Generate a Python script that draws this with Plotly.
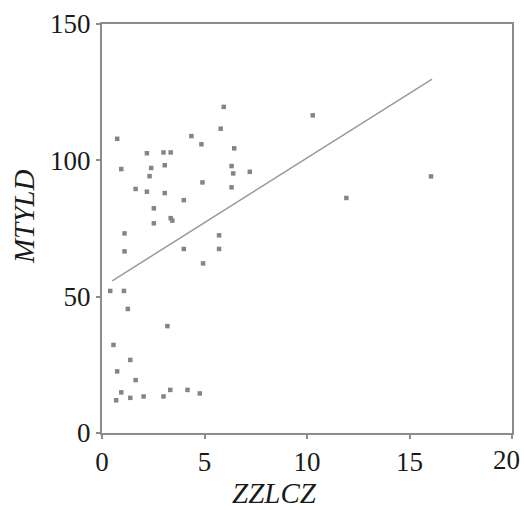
import plotly.graph_objects as go

# Scatter data (ZZLCZ vs MTYLD)
zzlcz = [5.94, 5.79, 0.74, 4.36, 4.85, 6.45, 2.19, 3.00, 3.35, 0.94,
         2.40, 3.06, 6.32, 6.40, 2.32, 4.90, 6.32, 1.64, 2.19, 3.06,
         3.99, 2.53, 7.21, 10.28, 5.71, 3.99, 5.71, 4.93, 3.35, 3.43,
         2.53, 1.10, 1.10, 0.40, 1.07, 1.26, 3.19, 0.56, 1.38, 0.74,
         1.64, 0.94, 0.69, 1.38, 2.03, 3.00, 3.33, 4.17, 4.77, 16.05,
         11.92]
mtyld = [119.6, 111.6, 107.9, 108.9, 105.9, 104.4, 102.6, 102.9, 102.9, 96.8,
         97.2, 98.2, 97.9, 95.2, 94.2, 91.9, 90.1, 89.5, 88.5, 88.0,
         85.4, 82.4, 95.8, 116.5, 72.5, 67.5, 67.5, 62.2, 78.8, 77.9,
         76.9, 73.2, 66.6, 52.1, 52.1, 45.5, 39.2, 32.3, 26.8, 22.6,
         19.4, 14.9, 12.0, 12.9, 13.4, 13.4, 15.8, 15.8, 14.5, 94.1,
         86.2]

# Fitted line endpoints
fit_x = [0.5, 16.1]
fit_y = [55.8, 129.8]

x_ticks = [0, 5, 10, 15, 20]
x_labels = ["0", "5", "10", "15", "20"]
y_ticks = [0, 50, 100, 150]
x_title = "ZZLCZ"
y_title = "MTYLD"

FONT = "Liberation Serif, Times New Roman, serif"
TICK_FONT = dict(family=FONT, size=27, color="#1a1a1a")
TITLE_FONT = dict(family=FONT, size=29, color="#1a1a1a")

fig = go.Figure()
fig.add_trace(go.Scatter(
    x=zzlcz, y=mtyld, mode="markers",
    marker=dict(symbol="square", size=4.5, color="#858585",
                line=dict(width=0)),
    showlegend=False, hoverinfo="skip"))
fig.add_trace(go.Scatter(
    x=fit_x, y=fit_y, mode="lines",
    line=dict(color="#9a9a9a", width=1.5),
    showlegend=False, hoverinfo="skip"))

axis_common = dict(
    showgrid=False, zeroline=False, showline=True, linecolor="#8c8c8c",
    linewidth=2, mirror=True, ticks="outside", ticklen=4, tickwidth=1.5,
    tickcolor="#8c8c8c", automargin=False,
    tickfont=TICK_FONT,
)

# last x label drawn as an annotation so it stays inside the page
fig.add_annotation(
    x=x_ticks[-1], xref="x", y=0, yref="paper", text=x_labels[-1],
    showarrow=False, xanchor="center", yanchor="top", xshift=-6, yshift=-11,
    borderpad=0, font=TICK_FONT)

# axis titles (placed like the reference, slightly off-centre)
fig.add_annotation(
    x=0.4215, xref="paper", y=0, yref="paper", text="<i>%s</i>" % x_title,
    showarrow=False, xanchor="center", yanchor="bottom", yshift=-77,
    borderpad=0, font=TITLE_FONT)
fig.add_annotation(
    x=0, xref="paper", y=0.528, yref="paper", text="<i>%s</i>" % y_title,
    showarrow=False, xanchor="center", yanchor="middle", xshift=-78,
    textangle=-90, font=TITLE_FONT)

fig.update_layout(
    width=524, height=510,
    margin=dict(l=102, r=12, t=24, b=77),
    paper_bgcolor="white", plot_bgcolor="white",
    xaxis=dict(range=[0, 20], tickvals=x_ticks,
               ticktext=x_labels[:-1] + [""], **axis_common),
    yaxis=dict(range=[0, 150], tickvals=y_ticks, **axis_common),
)

fig.write_html("out.html")
